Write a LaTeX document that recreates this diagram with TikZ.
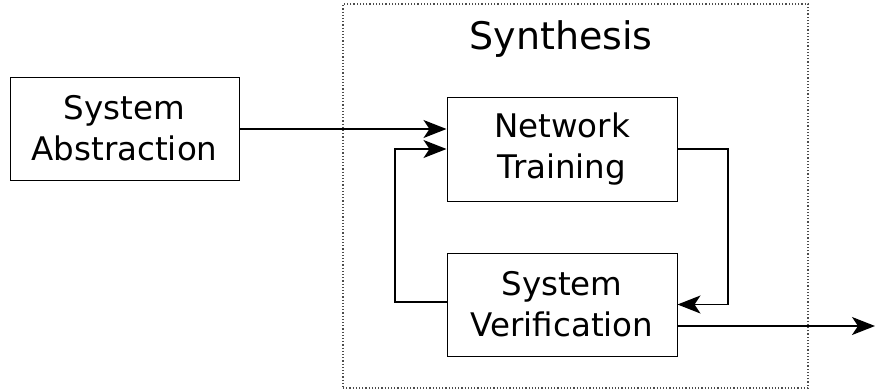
\documentclass[tikz,border=0pt]{standalone}
\usepackage{fontspec}
\setmainfont{DejaVu Sans}
\usetikzlibrary{arrows.meta}
\begin{document}
\begin{tikzpicture}[x=1pt,y=-1pt,
  blk/.style={draw, line width=1pt, inner sep=0pt, align=center,
    font=\fontsize{32.5}{41}\selectfont},
  conn/.style={line width=1.3pt},
  arr/.style={conn, -{Stealth[length=23pt,width=18pt,inset=6pt]}}]
\useasboundingbox (0,0) rectangle (875,391);
\node[draw=black!70, dotted, line width=1.2pt, minimum width=465pt, minimum height=384pt, inner sep=0pt] (syn) at (575.5,196) {};
\node[anchor=base, font=\fontsize{38}{42}\selectfont] (title) at (561,49) {Synthesis};
\node[blk, minimum width=229pt, minimum height=103pt] (abs) at (124.5,128.5) {System\\Abstraction};
\node[blk, minimum width=230pt, minimum height=104pt] (nt) at (562,149) {Network\\Training};
\node[blk, minimum width=230pt, minimum height=103pt] (sv) at (562,304.5) {System\\Verification};
\coordinate (l) at (395,0);
\coordinate (r) at (728,0);
\coordinate (out) at (875,326);
\coordinate (a1) at (0,129);
\draw[arr] (abs.east |- a1) -- (nt.west |- a1);
\draw[arr] (sv.west |- 0,302) -- (l |- 0,302) -- (l |- nt.west) -- (nt.west);
\draw[arr] (nt.east) -- (r |- nt.east) -- (r |- sv.east) -- (sv.east);
\draw[arr] (sv.east |- out) -- (out);
\end{tikzpicture}
\end{document}
